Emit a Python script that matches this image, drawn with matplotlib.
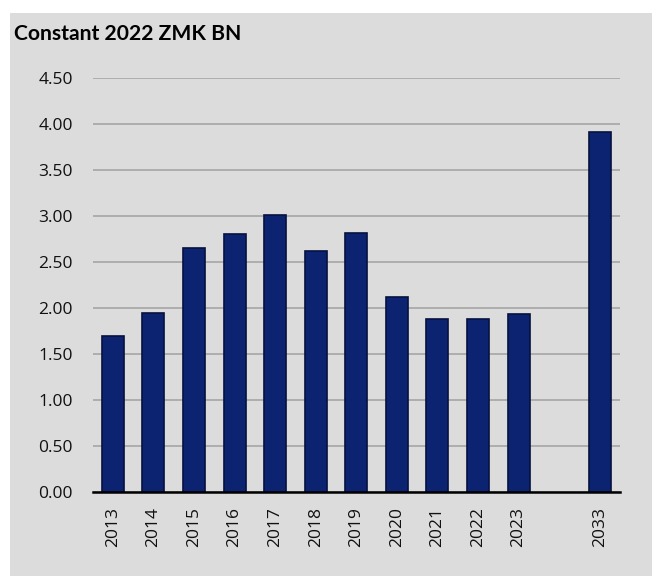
import numpy as np
import matplotlib.pyplot as plt
from matplotlib.patches import Rectangle

years = ['2013', '2014', '2015', '2016', '2017', '2018', '2019', '2020',
         '2021', '2022', '2023', '', '2033']
values = [1.70, 1.95, 2.65, 2.80, 3.01, 2.62, 2.82, 2.12,
          1.88, 1.88, 1.94, np.nan, 3.91]
yticks = [0, 0.5, 1.0, 1.5, 2.0, 2.5, 3.0, 3.5, 4.0, 4.5]

plt.rcParams['font.family'] = ['Open Sans', 'DejaVu Sans']

fig = plt.figure(figsize=(6.52, 5.76), dpi=100)
fig.patch.set_facecolor('white')
bg = Rectangle((10/652, 0), 1 - 10/652, 1 - 13/576, transform=fig.transFigure,
               facecolor='#dcdcdc', edgecolor='none', zorder=-10)
fig.patches.append(bg)

ax = fig.add_axes([0.1419, 0.1458, 0.8091, 0.7188])
ax.set_facecolor('none')

x = np.arange(len(years))
ax.bar(x, values, width=0.54, color='#0c2372', edgecolor='#06113f',
       linewidth=1.2, zorder=3)

ax.set_xlim(-0.5, len(years) - 0.5)
ax.set_ylim(0, 4.5)
ax.set_yticks(yticks)
ax.set_yticklabels(['%.2f' % v for v in yticks])
ax.set_xticks(x)
ax.set_xticklabels(years, rotation=90)
ax.tick_params(axis='y', length=0, pad=14, labelsize=12.5, colors='#111111')
ax.tick_params(axis='x', length=0, pad=11, labelsize=12.5, colors='#111111')

ax.yaxis.grid(True, color='#a0a0a0', linewidth=1.1, zorder=0)
ax.set_axisbelow(True)
for s in ['top', 'right', 'left']:
    ax.spines[s].set_visible(False)
ax.spines['bottom'].set_color('black')
ax.spines['bottom'].set_linewidth(1.8)
ax.spines['bottom'].set_zorder(4)

fig.text(14/652, 1 - 34/576, 'Constant 2022 ZMK BN', fontsize=15.2,
         fontweight='bold', va='center', ha='left', color='black',
         family=['Lato', 'DejaVu Sans'])

fig.savefig('out.png', dpi=100)
